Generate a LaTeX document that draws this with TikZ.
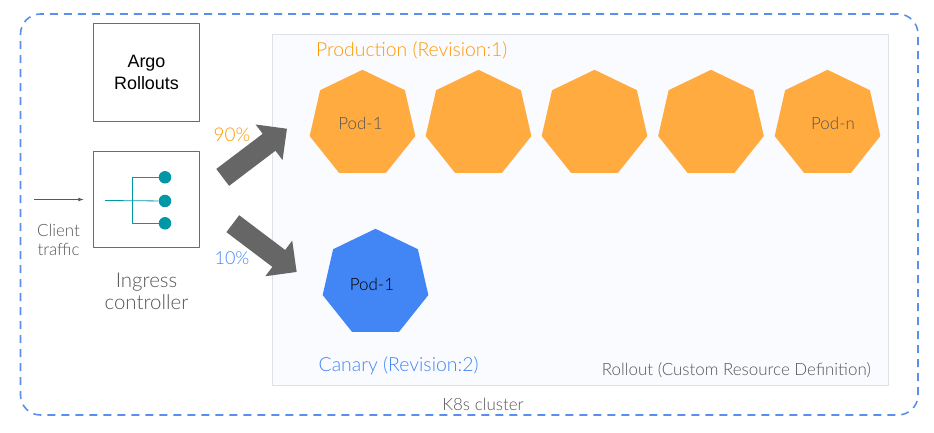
\documentclass[tikz,border=0pt]{standalone}
\usepackage{fontspec}
\setmainfont{Lato Light}
\newfontfamily\arialfont{Liberation Sans}
\usetikzlibrary{arrows.meta,shapes.geometric}
\definecolor{dashblue}{HTML}{5B8FEE}
\definecolor{podblue}{HTML}{4285F4}
\definecolor{podorange}{HTML}{FFAB40}
\definecolor{textorange}{HTML}{FF9800}
\definecolor{boxteal}{HTML}{0097A7}
\definecolor{panelfill}{HTML}{FAFBFF}
\definecolor{panelline}{HTML}{DFE1E5}
\definecolor{greytext}{HTML}{555555}
\tikzset{
  pod/.style={regular polygon,regular polygon sides=7,minimum size=108.4bp,inner sep=0pt,outer sep=0pt,fill=#1},
  tealbox/.style={draw=boxteal,line width=1bp,minimum width=106bp,minimum height=97bp,inner sep=0pt,outer sep=0pt,align=center},
  fat/.style={draw=black!60,line width=21.2bp,-{Triangle[length=22.5bp,width=43.3bp]}},
  dot/.style={circle,fill=boxteal,minimum size=12.5bp,inner sep=0pt},
  lbl/.style={text=greytext,font=\fontsize{#1}{#1}\selectfont,inner sep=0pt,align=center},
  lbl/.default=17,
}
\begin{document}
\begin{tikzpicture}[>=latex,x=1bp,y=-1bp,line join=bevel]
  \useasboundingbox (0,0) rectangle (934,433);
  % Node: cluster
  \node [draw=dashblue,line width=1.6bp,dash pattern=on 8bp off 6bp,rounded corners=20bp,minimum width=897.5bp,minimum height=401bp,inner sep=0pt] (cluster) at (469.25,214.5) {};
  % Node: rollout
  \node [draw=panelline,fill=panelfill,line width=1bp,minimum width=616.3bp,minimum height=351.2bp,inner sep=0pt] (rollout) at (580.8,209.9) {};
  % Node: argo, ingress
  \node [tealbox,minimum height=98bp,font=\arialfont\fontsize{18}{22}\selectfont] (argo) at (146.5,72.3) {Argo\\Rollouts};
  \node [tealbox,minimum height=96bp] (ingress) at (146.5,199.5) {};
  % Node: pods
  \node [pod=podorange] (prod_1) at (362.5,124) {};
  \node [pod=podorange] (prod_2) at (478.5,124) {};
  \node [pod=podorange] (prod_3) at (594.5,124) {};
  \node [pod=podorange] (prod_4) at (711,124) {};
  \node [pod=podorange] (prod_n) at (827.5,124) {};
  \node [pod=podblue] (canary_1) at (375.5,283) {};
  \node [lbl] (prod_1_lbl) at ([xshift=-2bp,yshift=1bp]prod_1) {Pod-1};
  \node [lbl] (prod_n_lbl) at ([xshift=5.5bp,yshift=1bp]prod_n) {Pod-n};
  \node [lbl,text=black] (canary_1_lbl) at ([xshift=-3.5bp,yshift=-1bp]canary_1) {Pod-1};
  % Node: ingress fan
  \node [dot] (dot_1) at (165,177.3) {};
  \node [dot] (dot_2) at (165,201) {};
  \node [dot] (dot_3) at (165,223.3) {};
  \coordinate (stem) at (105,200.5);
  \coordinate (trunk_1) at (132.7,177.3);
  \coordinate (trunk_3) at (132.7,223.3);
  % Edge: fan
  \draw [boxteal,line width=0.8bp] (stem) -- (dot_2);
  \draw [boxteal,line width=0.8bp] (dot_1) -- (trunk_1) -- (trunk_3) -- (dot_3);
  % Edge: client -> ingress
  \coordinate (client_in) at (34,199.5);
  \draw [->,black!65,line width=0.8bp,shorten >=10bp] (client_in) -- (ingress);
  % Edge: ingress -> prod, ingress -> canary
  \coordinate (fat_a0) at (222.7,177.4);
  \coordinate (fat_a1) at (287,128.7);
  \coordinate (fat_b0) at (232.8,223.7);
  \coordinate (fat_b1) at (296.7,272);
  \draw [fat] (fat_a0) -- (fat_a1);
  \draw [fat] (fat_b0) -- (fat_b1);
  % Labels
  \node [lbl] (client_lbl) at (58.5,239.5) {Client\\[2bp]traffic};
  \node [lbl=20.5] (ingress_lbl) at (146.5,291.5) {Ingress\\[2bp]controller};
  \node [lbl=19,text=textorange] (pct_90) at (232,135) {90\%};
  \node [lbl=18,text=podblue] (pct_10) at (232,258) {10\%};
  \node [lbl=19.4,text=textorange,anchor=west] (prod_lbl) at (316,50) {Production (Revision:1)};
  \node [lbl=19.5,text=podblue,anchor=west] (canary_lbl) at (318.5,366) {Canary (Revision:2)};
  \node [lbl=17,anchor=east] (rollout_lbl) at (871,370.5) {Rollout (Custom Resource Definition)};
  \node [lbl] (cluster_lbl) at (483,404) {K8s cluster};
\end{tikzpicture}
\end{document}
